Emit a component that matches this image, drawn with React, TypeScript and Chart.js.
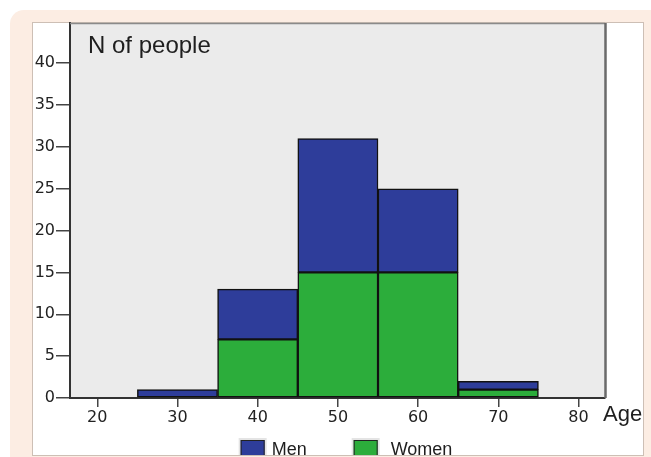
import React, { useEffect, useRef } from "react";
import { Chart, registerables } from "chart.js";

Chart.register(...registerables);

// ---- data ----
const ageBins = [30, 40, 50, 60, 70];
const womenCounts = [null, 7, 15, 15, 1];
const menCounts = [1, 6, 16, 10, 1];
const xTickValues = [20, 30, 40, 50, 60, 70, 80];
const yTickValues = [0, 5, 10, 15, 20, 25, 30, 35, 40];
const seriesLabels = ["Women", "Men"];
const seriesColors = ["#2cad3b", "#2e3d9a"];
const yTitle = "N of people";
const xTitle = "Age";

const framePlugin = {
  id: "frame",
  beforeDraw(chart: any) {
    const { ctx, chartArea: a } = chart;
    ctx.save();
    ctx.fillStyle = "#ebebeb";
    ctx.fillRect(a.left, a.top, a.right - a.left, a.bottom - a.top);
    ctx.restore();
  },
  afterDraw(chart: any) {
    const { ctx, chartArea: a } = chart;
    ctx.save();
    // top border
    ctx.strokeStyle = "#8a8a8a";
    ctx.lineWidth = 1.5;
    ctx.beginPath();
    ctx.moveTo(a.left, a.top + 0.5);
    ctx.lineTo(a.right, a.top + 0.5);
    ctx.stroke();
    // right border
    ctx.strokeStyle = "#6a6a6a";
    ctx.lineWidth = 2.5;
    ctx.beginPath();
    ctx.moveTo(a.right + 0.5, a.top);
    ctx.lineTo(a.right + 0.5, a.bottom);
    ctx.stroke();

    // inner title
    ctx.fillStyle = "#1e1e1e";
    ctx.font = '24px "Liberation Sans", Arial, sans-serif';
    ctx.textAlign = "left";
    ctx.textBaseline = "alphabetic";
    ctx.fillText(yTitle, a.left + 18, a.top + 30);

    // x title to the right of the axis
    ctx.font = '22px "Liberation Sans", Arial, sans-serif';
    ctx.fillText(xTitle, a.right - 2, a.bottom + 23);

    // legend (Men first)
    ctx.font = '18px "Liberation Sans", Arial, sans-serif';
    const order = [1, 0];
    const gaps = [7, 13];
    const boxW = 24, boxH = 18, spacing = 47;
    const items = order.map((i, k) => ({
      label: chart.data.datasets[i].label as string,
      color: chart.data.datasets[i].backgroundColor as string,
      gap: gaps[k],
      tw: ctx.measureText(chart.data.datasets[i].label).width,
    }));
    const total = items.reduce((s, it) => s + boxW + it.gap + it.tw, 0) + spacing * (items.length - 1);
    let x = (a.left + a.right) / 2 - total / 2 + 9;
    const boxTop = a.bottom + 42;
    const baseline = a.bottom + 57;
    items.forEach((it) => {
      ctx.fillStyle = "#e4e4e4";
      ctx.fillRect(x - 2, boxTop - 2, boxW + 4, boxH + 4);
      ctx.fillStyle = it.color;
      ctx.fillRect(x, boxTop, boxW, boxH);
      ctx.strokeStyle = "#222";
      ctx.lineWidth = 1;
      ctx.strokeRect(x + 0.5, boxTop + 0.5, boxW - 1, boxH - 1);
      ctx.fillStyle = "#1e1e1e";
      ctx.fillText(it.label, x + boxW + it.gap, baseline);
      x += boxW + it.gap + it.tw + spacing;
    });
    ctx.restore();
  },
};

export default function App() {
  const ref = useRef<HTMLCanvasElement | null>(null);

  useEffect(() => {
    if (!ref.current) return;
    const tickFont = { family: '"DejaVu Sans", sans-serif', size: 16 };
    const chart = new Chart(ref.current, {
      type: "bar",
      data: {
        datasets: [
          {
            label: seriesLabels[0],
            data: ageBins.map((x, i) => ({ x, y: womenCounts[i] })),
            backgroundColor: seriesColors[0],
            borderColor: "#111",
            borderWidth: 1.5,
            borderSkipped: false,
            barPercentage: 1,
            categoryPercentage: 1,
          },
          {
            label: seriesLabels[1],
            data: ageBins.map((x, i) => ({ x, y: menCounts[i] })),
            backgroundColor: seriesColors[1],
            borderColor: "#111",
            borderWidth: 1.5,
            borderSkipped: false,
            barPercentage: 1,
            categoryPercentage: 1,
          },
        ],
      } as any,
      options: {
        responsive: false,
        animation: false,
        devicePixelRatio: 1,
        layout: { padding: { left: 0, top: 1, right: 38, bottom: 27 } },
        plugins: {
          legend: { display: false },
          tooltip: { enabled: false },
        },
        scales: {
          x: {
            type: "linear",
            stacked: true,
            offset: false,
            min: 16.6,
            max: 83.3,
            afterBuildTicks: (s: any) => {
              s.ticks = xTickValues.map((v) => ({ value: v }));
            },
            afterFit: (s: any) => {
              s.height = 30;
              s.paddingLeft = 0;
              s.paddingRight = 0;
            },
            grid: {
              offset: false,
              drawOnChartArea: false,
              drawTicks: true,
              tickLength: 9,
              color: "#444",
              lineWidth: 1.5,
            },
            border: { display: true, color: "#333", width: 2 },
            ticks: { font: tickFont, color: "#222", padding: 1, maxRotation: 0 },
          },
          y: {
            stacked: true,
            min: 0,
            max: 44.8,
            afterBuildTicks: (s: any) => {
              s.ticks = yTickValues.map((v) => ({ value: v }));
            },
            afterFit: (s: any) => {
              s.width = 38;
              s.paddingTop = 0;
              s.paddingBottom = 0;
            },
            grid: {
              drawOnChartArea: false,
              drawTicks: true,
              tickLength: 14,
              color: "#444",
              lineWidth: 1.5,
            },
            border: { display: true, color: "#333", width: 2 },
            ticks: { font: tickFont, color: "#222", padding: 1 },
          },
        },
      } as any,
      plugins: [framePlugin],
    });
    return () => chart.destroy();
  }, []);

  return (
    <div
      style={{
        position: "fixed",
        left: 0,
        top: 0,
        width: 651,
        height: 457,
        background: "#ffffff",
        overflow: "hidden",
      }}
    >
      <div
        style={{
          position: "absolute",
          left: 10,
          top: 10,
          right: 0,
          bottom: 0,
          background: "#fcede3",
          borderTopLeftRadius: 14,
        }}
      />
      <div
        style={{
          position: "absolute",
          left: 32,
          top: 22,
          width: 612,
          height: 434,
          background: "#ffffff",
          border: "1px solid #cdbfb5",
          boxSizing: "border-box",
        }}
      />
      <canvas
        ref={ref}
        width={611}
        height={433}
        style={{ position: "absolute", left: 32, top: 22, width: 611, height: 433 }}
      />
    </div>
  );
}
